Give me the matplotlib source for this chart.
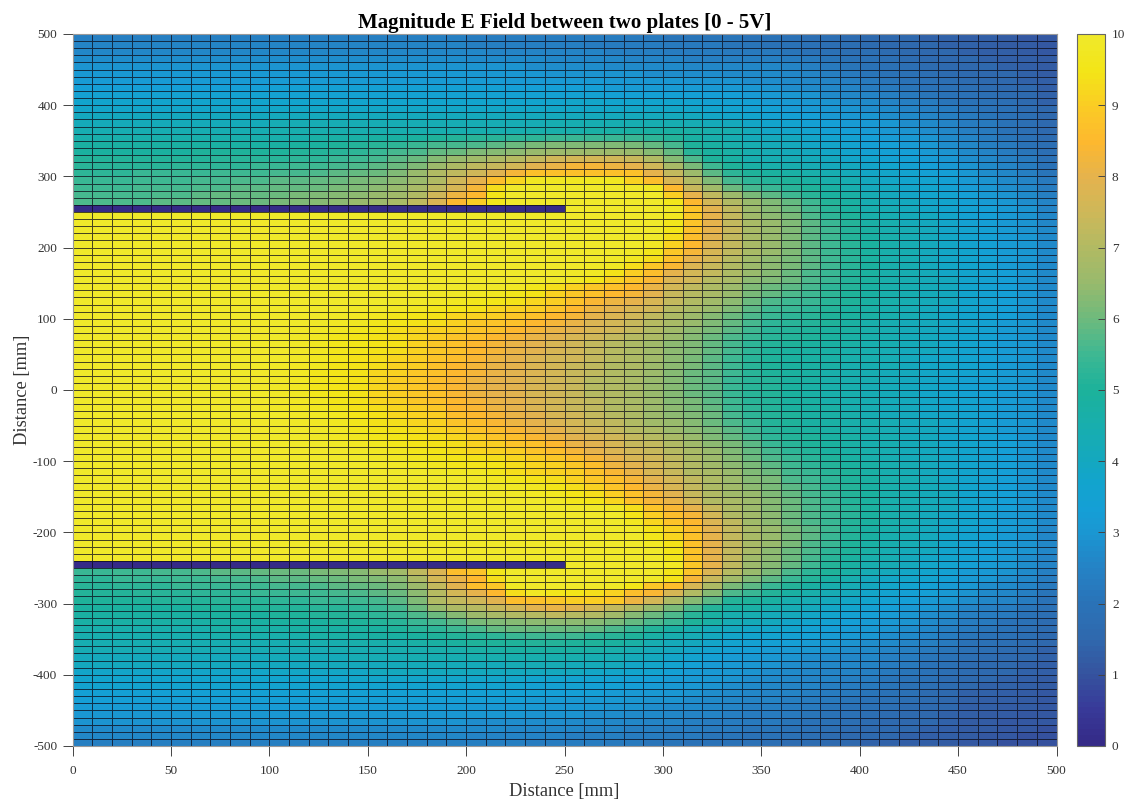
import numpy as np
import matplotlib
matplotlib.use("Agg")
import matplotlib.pyplot as plt
from matplotlib.colors import LinearSegmentedColormap

plt.rcParams['font.family'] = ['Liberation Serif', 'DejaVu Serif']
plt.rcParams['axes.unicode_minus'] = False

TITLE = "Magnitude E Field between two plates [0 - 5V]"
XLABEL = "Distance [mm]"
YLABEL = "Distance [mm]"
x_ticks = list(range(0, 501, 50))
y_ticks = list(range(-500, 501, 100))
cbar_ticks = list(range(0, 11))
x_edges = list(range(0, 501, 10))
y_edges = list(range(500, -501, -10))

# Field magnitude, in tenths of a unit, rows from y=495 down.
rows_above = [
 [24]*20+[23]*8+[22]*2+[21,21,21,21,20,20,19,18,18,17,16,15,15,14,14,13,13,12,11,11],
 [25]*20+[24]*6+[23]*4+[22,22,22,21,21,20,20,19,18,18,17,16,15,15,14,14,13,12,12,11],
 [26]*20+[26,25,25,25,25,25,25,24,24,24,23,23,23,22,22,22,21,20,19,18,18,17,16,15,15,14,13,13,12,11],
 [28]*20+[27,27,27,27,26,26,26,26,25,25,25,24,24,24,24,24,23,22,21,20,19,18,17,16,15,15,14,13,13,12],
 [29]*20+[29,29,29,28,28,28,28,27,27,27,27,26,26,26,26,26,25,24,22,21,20,19,18,17,16,15,15,14,13,12],
 [31]*20+[30,30,30,30,29,29,29,29,29,28,28,28,28,27,27,27,26,25,24,22,21,20,19,18,17,16,15,15,14,12],
 [32]*20+[32,32,31,31,31,31,31,30,30,30,30,29,29,29,28,28,27,26,25,24,22,21,20,19,18,17,16,15,14,13],
 [33]*10+[34]*10+[34,34,33,33,33,33,33,32,32,32,32,32,31,31,30,29,28,27,26,25,23,22,21,20,19,18,17,16,15,13],
 [35]*20+[35,35,35,35,35,35,35,34,34,34,34,34,33,33,32,31,30,29,27,26,25,24,22,21,20,19,18,17,16,14],
 [37]*20+[37,37,37,37,37,38,38,37,37,37,37,36,35,35,34,32,31,30,29,28,27,25,24,23,21,20,19,18,16,14],
 [38]*10+[39]*10+[39]*10+[39,38,37,36,35,34,32,31,30,29,28,27,25,24,23,21,20,19,17,15],
 [40]*10+[41]*10+[41]*10+[41,40,39,38,37,35,34,33,31,30,30,28,27,25,24,22,21,19,18,15],
 [42]*10+[43]*10+[43,43,43,43,44,44,44,44,44,44,44,43,42,41,39,37,36,34,33,32,31,30,28,27,25,23,22,20,18,16],
 [44]*10+[45,45,45,45,45,45,45,45,45,45]+[45,45,45,46,46,46,47,47,48,48,48,47,46,45,42,39,38,36,34,33,32,30,29,28,26,24,22,20,18,16],
 [46]*10+[46,46,47,47,47,48,48,49,50,51,52,52,53,53,54,54,54,54,54,53,51,48,46,44,42,41,40,38,36,35,33,32,31,29,27,25,23,21,19,17],
 [48]*10+[48,49,49,50,51,52,53,54,56,56,57,58,60,61,62,62,62,62,61,59,56,50,48,46,44,42,41,39,38,36,34,33,32,30,28,26,24,22,20,18],
 [49,49,49,49,49,49,50,50,50,50,50,51,51,52,53,54,56,57,59,60,62,63,64,65,66,66,66,66,65,63,59,52,49,47,45,43,42,40,39,37,35,34,33,31,29,27,25,23,21,18],
 [51,51,51,51,51,51,51,52,52,52,52,53,53,54,55,56,58,60,63,65,67,69,71,73,75,76,76,75,74,70,63,57,50,48,45,44,43,42,40,38,37,35,34,32,30,28,26,24,22,19],
 [52,52,52,52,52,53,53,53,53,54,54,55,55,56,57,58,60,62,66,69,72,74,76,79,81,83,83,82,80,75,68,61,55,50,47,46,45,43,41,40,38,37,35,33,31,29,27,25,23,20],
 [53,53,53,54,54,54,54,55,55,55,56,56,57,58,59,60,62,65,70,72,75,79,83,87,87,87,87,87,87,80,73,66,58,53,50,49,47,46,44,42,39,38,36,34,33,30,28,26,24,21],
 [54,54,54,55,55,55,56,56,57,57,58,58,59,60,61,62,64,66,70,75,80,86,92,97,97,97,97,97,91,86,77,70,62,56,53,51,50,48,46,44,40,39,37,36,34,31,29,27,25,22],
 [55,55,55,56,56,56,57,57,58,58,59,59,60,61,62,64,65,68,72,77,83,93,100,100,100,100,100,100,100,98,85,74,67,60,56,54,52,50,48,45,41,40,38,37,35,32,30,28,26,23],
 [56,56,56,56,57,57,58,59,59,59,60,61,62,63,64,65,67,70,75,82,85,95,100,100,100,100,100,100,100,100,90,80,72,66,61,58,55,52,49,47,43,41,39,37,36,33,31,29,27,24],
 [57,57,57,57,58,58,59,59,60,60,61,62,63,64,65,66,68,72,78,85,90,96,100,100,100,100,100,100,100,100,96,85,76,70,65,62,59,55,51,48,44,42,40,38,37,34,32,30,28,25],
]
plate_top_row = [0]*25+[100]*5+[99,88,79,72,66,63,60,56,52,49,45,43,41,39,37,35,33,31,29,25]

# Right-hand ends of the rows between the plates; everything to their left is at 100.
rows_between_tail = [
 [97,89,80,73,67,64,61,57,53,50,46,44,42,40,38,35,33,31,29,26],
 [96,88,80,73,68,65,62,58,54,51,47,45,42,40,38,35,33,31,29,26],
 [95,87,80,74,68,65,62,58,55,51,48,45,43,41,38,36,34,32,29,27],
 [93,86,79,73,68,65,62,58,55,51,48,46,43,41,39,36,34,32,30,27],
 [98,91,85,78,73,68,65,62,58,55,52,49,46,43,41,39,36,34,32,30,27],
 [99,96,89,83,77,72,68,65,62,58,55,52,49,46,44,41,39,37,34,32,30,27],
 [99,97,93,87,80,76,71,67,64,61,58,55,52,49,46,44,41,39,37,35,32,30,27],
 [99,98,93,89,84,78,74,70,66,64,61,58,55,52,49,46,44,41,39,37,35,32,30,27],
 [99,98,94,90,86,80,76,73,69,65,63,60,57,54,51,49,46,44,42,39,37,35,33,30,27],
 [98,95,91,88,84,78,75,71,68,64,62,60,57,54,51,49,46,44,42,40,37,35,33,30,27],
 [99,99,98,96,93,91,89,87,85,81,76,72,69,66,62,60,58,56,53,51,48,46,44,42,40,37,35,33,30,27],
 [99,99,98,97,96,94,91,89,87,85,83,79,74,71,68,65,61,59,57,55,53,50,48,46,44,42,40,37,35,33,30,27],
 [99,99,98,97,96,95,94,92,90,87,84,82,80,77,73,70,67,64,60,57,55,54,52,50,48,46,44,42,40,37,35,33,30,27],
 [99,99,98,97,96,95,94,92,91,90,88,85,82,79,77,75,71,68,65,62,58,55,54,53,51,49,47,45,43,41,39,37,35,33,30,27],
 [99,98,97,96,95,94,92,91,90,89,87,85,83,80,78,75,72,69,66,63,60,57,54,53,52,50,49,47,45,43,41,39,37,35,33,30,27],
 [99,98,97,96,95,94,93,91,89,88,87,85,83,81,78,76,74,71,68,65,62,59,56,53,52,51,50,48,46,44,42,41,39,37,35,32,30,27],
 [99,98,97,96,95,93,92,91,90,88,87,85,83,81,79,77,75,73,70,67,64,61,58,55,52,51,50,49,48,46,44,42,40,39,37,35,32,30,27],
 [99,98,96,95,94,93,92,90,88,87,85,83,81,79,77,75,73,71,69,66,63,60,57,54,52,51,50,49,47,46,44,42,40,39,37,35,32,30,27],
 [99,97,96,95,94,94,91,89,87,85,83,81,79,77,75,73,71,69,67,64,62,59,56,53,51,50,49,48,47,45,44,42,40,38,36,34,32,30,27],
 [99,97,96,95,94,93,91,89,87,85,83,81,79,77,75,73,71,69,67,64,62,59,56,53,50,49,48,47,46,45,43,41,40,38,36,34,32,30,27],
 [99,97,96,94,93,92,90,88,86,84,82,80,78,76,75,73,71,69,67,64,61,58,55,52,50,49,48,47,46,45,43,41,39,38,36,34,32,30,27],
 [99,98,97,95,94,93,91,90,87,85,83,81,80,78,76,74,72,70,69,66,64,61,58,55,52,50,49,48,47,45,44,43,41,39,38,36,34,32,30,27],
 [99,98,96,95,94,92,91,89,87,85,83,81,79,78,76,74,72,70,68,66,63,60,58,55,52,50,49,48,46,45,44,42,41,39,37,36,34,32,30,27],
 [99,98,96,95,94,92,90,89,86,84,82,80,79,77,75,74,71,70,68,65,63,60,58,54,52,51,49,48,46,45,44,42,40,39,37,35,34,32,30,27],
 [99,98,96,95,94,92,90,89,86,84,82,80,79,77,75,74,71,70,68,65,63,60,58,54,52,51,49,47,46,45,43,42,40,39,37,35,34,32,30,27],
 [99,98,96,95,94,92,90,89,87,84,82,80,79,77,75,74,71,70,68,65,63,60,58,54,52,51,49,47,46,45,43,42,40,38,37,35,34,32,30,27],
 [99,98,97,95,94,92,91,89,87,85,83,81,80,78,76,74,72,70,68,66,63,61,58,55,52,51,49,48,46,45,44,42,41,39,37,36,34,32,30,27],
 [99,98,97,96,94,93,92,90,89,85,84,82,80,78,76,74,72,70,69,66,64,61,59,55,53,51,49,48,47,45,44,42,41,39,37,36,34,32,30,27],
 [99,98,97,95,94,92,91,90,86,85,83,81,79,77,75,73,71,69,66,64,62,60,56,53,51,50,48,47,46,44,42,41,39,38,36,34,32,30,27],
 [99,98,97,96,94,93,92,91,88,86,84,82,80,78,76,74,72,70,67,65,63,60,57,54,51,50,48,47,46,45,43,41,40,38,36,34,32,30,27],
 [99,98,96,95,94,93,92,90,88,86,84,82,80,77,75,73,71,69,66,64,61,58,55,52,50,49,47,46,45,43,41,40,38,36,35,32,30,27],
 [99,98,97,96,95,94,93,92,90,88,86,84,82,79,77,75,73,71,68,65,62,59,56,53,51,50,48,47,45,44,42,40,38,37,35,33,30,27],
 [99,98,97,96,95,94,93,91,90,88,87,85,81,79,77,74,73,70,67,64,61,58,54,52,50,49,47,45,44,42,40,38,37,35,33,30,27],
 [99,98,97,96,95,93,92,91,90,88,86,83,80,78,75,74,71,68,65,62,59,56,53,51,49,47,46,44,42,40,39,37,35,33,30,27],
 [99,98,97,96,95,94,93,92,90,89,86,83,80,77,75,72,69,66,63,60,57,54,52,50,48,46,44,42,41,39,37,35,33,30,27],
 [99,98,97,96,96,95,93,92,91,89,86,82,79,76,73,70,67,64,61,58,55,53,51,49,47,45,43,41,39,37,35,33,30,27],
 [99,98,98,96,93,92,91,90,87,84,81,77,74,70,68,65,62,60,56,54,52,50,47,45,43,41,39,37,35,33,30,27],
 [99,97,96,94,93,91,89,86,83,79,76,72,69,66,63,61,57,55,53,50,48,46,44,42,39,37,35,33,30,27],
 [99,98,97,95,93,91,88,85,81,77,73,69,67,64,61,58,56,53,51,48,46,44,42,40,37,35,33,30,27],
 [99,98,97,95,93,90,87,83,79,74,70,67,65,62,59,56,54,51,49,46,44,42,40,37,35,33,30,27],
 [99,96,95,92,87,83,81,75,70,68,66,63,60,57,54,51,49,46,44,42,40,37,35,33,30,27],
 [99,93,88,84,80,74,69,66,63,60,57,54,52,49,46,44,42,40,37,35,33,30,27],
 [95,90,86,83,76,70,67,64,60,57,54,52,49,46,44,41,39,37,35,32,30,27],
 [97,92,88,85,78,72,67,64,60,57,54,51,49,46,44,41,39,37,34,32,30,27],
 [94,91,86,79,73,68,65,61,58,55,51,48,46,43,41,39,36,34,32,30,26],
 [96,92,87,80,73,68,65,61,58,54,51,48,45,43,41,38,36,34,32,29,26],
 [98,94,87,80,73,68,65,61,57,54,50,47,45,43,40,38,35,33,31,29,26],
 [95,88,80,73,68,64,60,57,53,50,47,44,42,40,37,35,33,31,29,26],
 [96,88,80,73,67,64,60,56,52,49,46,44,41,39,37,35,33,31,28,25],
]
plate_bottom_row = [0]*25+[100]*5+[98,89,80,72,66,63,59,55,51,48,45,43,41,38,36,34,32,30,28,25]

rows_below = [
 [54,54,55,55,56,56,57,58,58,59,60,60,61,62,63,65,67,72,78,86,88,96]+[100]*8+[95,88,78,71,65,61,57,53,50,47,43,41,39,37,35,32,31,29,27,24],
 [53,53,54,54,54,55,55,56,56,57,58,58,59,60,61,62,64,69,76,81,85,93]+[100]*7+[99,94,83,74,67,62,58,54,51,48,45,41,39,38,36,34,31,30,28,26,23],
 [52,52,53,53,53,54,54,54,55,55,56,56,57,58,59,60,62,66,73,79,86,89,98,100,100,100,100,99,95,89,86,77,69,61,58,54,51,48,45,43,40,38,36,34,32,30,28,27,25,22],
 [51,51,51,52,52,52,53,53,53,54,54,55,55,56,57,58,60,64,71,76,80,85,93,98,96,95,93,91,86,84,77,70,63,57,54,51,48,46,43,41,38,36,34,33,31,29,27,26,24,21],
 [50,50,50,50,51,51,51,52,52,52,53,53,54,54,55,56,58,62,70,73,75,79,86,87,89,90,90,89,82,76,69,63,58,51,50,48,45,43,41,39,37,35,33,31,30,28,26,25,23,20],
 [49,49,49,49,49,49,50,50,50,51,51,51,52,52,53,54,56,60,65,69,71,74,76,79,81,79,76,73,70,65,61,57,51,48,47,45,43,41,39,37,35,33,31,30,28,25,24,23,21,19],
 [48,48,48,48,48,48,48,49,49,49,50,50,51,51,52,53,54,57,60,63,66,68,70,71,72,71,70,67,63,60,57,52,48,45,44,42,41,39,37,35,33,32,30,28,27,24,23,22,20,18],
 [47,47,47,47,47,47,47,48,48,48,49,49,49,50,50,51,52,54,56,58,61,62,63,64,64,64,63,61,59,57,54,50,47,43,42,40,38,37,35,33,32,30,29,27,25,23,22,20,19,17],
 [46,46,46,46,46,46,46,47,47,47,47,48,48,48,49,49,50,52,53,55,57,59,60,60,60,60,59,57,54,51,48,45,42,40,39,38,37,35,33,32,31,29,28,26,24,22,21,20,18,17],
 [45,45,45,45,45,45,45,46,46,46,46,46,47,47,47,48,48,49,50,51,52,53,54,55,55,55,53,52,50,47,45,43,40,38,37,36,35,34,32,31,30,28,27,25,23,21,20,19,18,16],
 [44]*10+[44,45,45,45,46,46,46,47,48,49,50,50,50,51,51,50,50,49,47,44,42,40,38,36,35,34,33,32,31,29,28,27,25,24,22,20,19,18,17,15],
 [43]*10+[43,43,43,44,44,44,45,45,46,46,47,47,48,48,48,48,47,46,44,42,40,38,36,34,33,32,31,30,29,28,27,25,24,22,21,19,18,17,16,14],
 [41]*10+[42,42,42,42,43,43,43,44,44,44,45,45,45,45,45,45,44,43,42,40,38,36,34,32,31,30,29,28,27,26,26,24,23,21,20,18,17,16,15,14],
 [40]*10+[40,40,41,41,41,41,42,42,42,42,42,42,43,43,43,42,42,41,39,38,36,34,32,31,30,29,28,27,26,26,25,23,22,20,19,17,16,15,14,13],
 [38]*10+[39,39,39,39,39,40,40,40,40,40,40,40,40,40,40,40,39,38,37,36,34,32,31,30,29,28,27,26,25,25,24,22,21,20,18,17,16,15,14,13],
 [37]*10+[37,37,37,37,38,38,38,38,38,38,38,38,38,37,37,36,36,35,34,33,32,31,30,29,28,27,26,25,25,24,23,21,20,19,17,16,15,14,13,12],
 [36]*18+[36,36,36,36,36,35,35,35,34,34,33,32,31,30,29,28,27,26,25,25,24,23,22,21,19,18,17,15,14,14,13,12],
 [34]*18+[34,34,34,34,34,34,33,33,33,32,31,31,30,29,28,27,26,25,25,24,23,22,21,20,19,17,16,14,14,13,12,11],
 [33]*18+[33,33,33,33,33,32,32,31,31,31,30,29,29,28,27,26,25,25,24,23,22,21,20,19,18,17,15,14,13,13,12,11],
 [32]*18+[32,32,31,31,31,31,30,30,30,29,29,28,27,27,26,25,24,24,23,22,21,20,19,18,17,16,15,13,13,12,12,11],
 [30]*18+[30,30,30,30,30,29,29,29,28,28,27,27,26,25,25,24,23,23,22,21,20,19,18,17,16,15,14,13,12,12,11,11],
 [29]*18+[29,29,28,28,28,28,28,27,27,26,26,25,25,24,23,23,22,22,21,20,19,18,17,16,15,15,14,12,12,11,11,11],
 [27]*18+[27,27,27,27,26,26,26,26,25,25,24,24,23,23,22,22,21,21,20,19,18,17,16,16,15,14,13,12,12,11,11,10],
 [26]*18+[26,26,25,25,25,25,25,24,24,24,23,23,22,22,21,21,20,20,19,18,17,16,16,15,14,13,13,12,11,11,10,10],
 [24]*18+[24,24,24,24,24,23,23,23,23,22,22,21,21,20,20,20,19,18,17,17,16,15,14,14,13,13,12,11,11,10,10,10],
]

# Colour ramp sampled from the reference colour bar (value, colour).
ramp = [(0, '#352a87'), (0.5, '#383a99'), (1, '#35549f'), (1.5, '#2f69ae'), (2, '#2a73b8'),
        (2.5, '#2483c6'), (3, '#1a97d2'), (3.3, '#159fd6'), (3.7, '#12a4cd'), (4, '#14a8bf'),
        (4.5, '#18aeae'), (5, '#1cb29b'), (5.5, '#3db893'), (6, '#6dba7d'), (6.5, '#97ba6d'),
        (7, '#b1ba63'), (7.5, '#cdb859'), (8, '#e4b34e'), (8.5, '#fdb82f'), (9, '#fbcb25'),
        (9.5, '#f3e517'), (10, '#f0e92a')]
cmap = LinearSegmentedColormap.from_list('field', [(v / 10, c) for v, c in ramp], N=128)

between = [[100] * (50 - len(t)) + t for t in rows_between_tail]
all_rows = rows_above + [plate_top_row] + between + [plate_bottom_row] + rows_below
bad = [i for i, r in enumerate(all_rows) if len(r) != 50]
if bad:
    raise SystemExit(f"bad rows {[(i, len(all_rows[i])) for i in bad]} of {len(all_rows)}")
Z = np.array(all_rows, dtype=float) / 10.0

W, H = 1135, 806
fig = plt.figure(figsize=(W / 100, H / 100), dpi=100)
ax = fig.add_axes([72.5 / W, 1 - 746 / H, 984 / W, 712 / H])
cax = fig.add_axes([1077 / W, 1 - 746 / H, 28 / W, 712 / H])

mesh = ax.pcolormesh(x_edges, y_edges, Z, cmap=cmap, vmin=0, vmax=10,
                     edgecolors=(0.05, 0.05, 0.1, 0.75), linewidth=0.65)
ax.set_xlim(0, 500)
ax.set_ylim(-500, 500)
ax.set_xticks(x_ticks)
ax.set_yticks(y_ticks)
ax.tick_params(axis='both', direction='out', length=7, width=0.7, color='#444444',
               labelsize=9.5, labelcolor='#333333')
ax.tick_params(axis='x', pad=7)
ax.tick_params(axis='y', pad=4)
for s in ax.spines.values():
    s.set_color('#999999')
    s.set_linewidth(0.8)

ax.set_title(TITLE, fontsize=15, fontweight='bold', color='black', pad=4)
ax.set_xlabel(XLABEL, fontsize=13.3, color='#333333', labelpad=4)
ax.set_ylabel(YLABEL, fontsize=13.3, color='#333333', labelpad=1.5)

cb = fig.colorbar(mesh, cax=cax, ticks=cbar_ticks)
cb.ax.tick_params(direction='in', length=5, width=0.7, color='#444444',
                  labelsize=9.5, labelcolor='#333333', pad=5)
cb.outline.set_edgecolor('#666666')
cb.outline.set_linewidth(0.8)

fig.savefig('out.png', dpi=100, facecolor='white')
